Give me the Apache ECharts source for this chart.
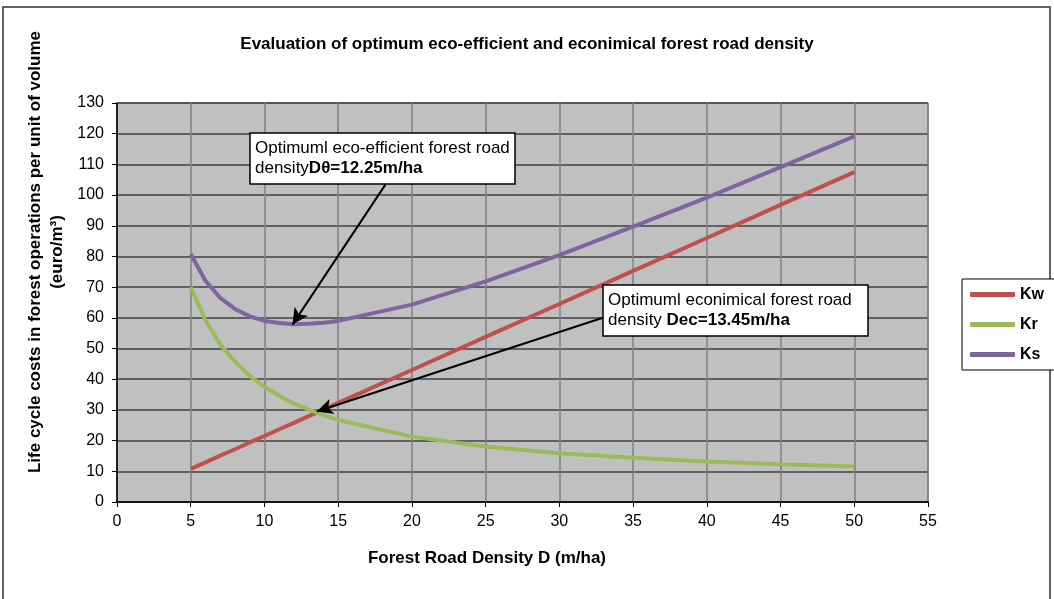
<!DOCTYPE html>
<html>
<head>
<meta charset="utf-8">
<script src="https://cdn.jsdelivr.net/npm/echarts@6/dist/echarts.min.js"></script>
<style>
  html, body { margin: 0; padding: 0; background: #fff; }
  #chart { width: 1054px; height: 599px; }
</style>
</head>
<body>
<div id="chart"></div>
<script>
// Forest road density D (m/ha)
const densityD = [5, 6, 7, 8, 9, 10, 11, 12, 13, 14, 15, 20, 25, 30, 35, 40, 45, 50];
// Kw: road construction & maintenance cost share
const kwValues = [10.8, 12.9, 15.1, 17.2, 19.4, 21.5, 23.7, 25.8, 28.0, 30.1, 32.3, 43.0, 53.8, 64.5, 75.3, 86.0, 96.8, 107.5];
// Kr: skidding / harvesting cost share
const krValues = [70.0, 59.2, 51.4, 45.7, 41.1, 37.5, 34.6, 32.1, 30.1, 28.3, 26.7, 21.3, 18.1, 15.9, 14.4, 13.2, 12.3, 11.6];
// Ks: total life cycle cost
const ksValues = [80.8, 72.1, 66.5, 62.9, 60.5, 59.0, 58.3, 57.9, 58.1, 58.4, 59.0, 64.3, 71.9, 80.4, 89.7, 99.2, 109.1, 119.1];

const seriesNames = ['Kw', 'Kr', 'Ks'];
const seriesColors = ['#c0504d', '#9bbb59', '#8064a2'];

const xTicks = { min: 0, max: 55, step: 5 };
const yTicks = { min: 0, max: 130, step: 10 };

// Callout arrows: [tail (D, cost), head (D, cost)]
const ecoArrow = [[18.2, 103.4], [11.9, 57.8]];
const econArrow = [[33.0, 60.1], [13.55, 29.5]];

const chart = echarts.init(document.getElementById('chart'), null, { renderer: 'canvas' });

const toPairs = vals => densityD.map((d, i) => [d, vals[i]]);
const allValues = [kwValues, krValues, ksValues];

const baseFont = 'Liberation Sans, Arial, sans-serif';

const series = seriesNames.map((name, i) => ({
  name,
  type: 'line',
  data: toPairs(allValues[i]),
  showSymbol: false,
  symbol: 'none',
  smooth: false,
  lineStyle: { color: seriesColors[i], width: 4 },
  itemStyle: { color: seriesColors[i] },
  z: 3
}));

// arrows drawn in data coordinates on top of the curves
series.push({
  type: 'line',
  data: [],
  z: 5,
  markLine: {
    silent: true,
    animation: false,
    symbol: ['none', 'arrow'],
    symbolSize: [12, 16],
    label: { show: false },
    lineStyle: { color: '#000', width: 2, type: 'solid' },
    data: [
      [{ coord: ecoArrow[0] }, { coord: ecoArrow[1] }],
      [{ coord: econArrow[0] }, { coord: econArrow[1] }]
    ]
  }
});

const calloutText = (x, y, w, h, line1, line2a, line2b) => ({
  type: 'group',
  z: 100,
  children: [
    {
      type: 'rect',
      z: 100,
      shape: { x: x, y: y, width: w, height: h },
      style: { fill: '#fff', stroke: '#000', lineWidth: 1.5 }
    },
    {
      type: 'text',
      z: 101,
      x: x + 5,
      y: y + 5,
      style: {
        text: line1 + '\n' + line2a + '{b|' + line2b + '}',
        font: '17px ' + baseFont,
        fill: '#000',
        lineHeight: 20,
        rich: {
          b: { font: 'bold 17px ' + baseFont, fill: '#000', lineHeight: 20 }
        }
      }
    }
  ]
});

chart.setOption({
  animation: false,
  backgroundColor: '#fff',
  title: {
    text: 'Evaluation of optimum eco-efficient and econimical forest road density',
    left: 522,
    top: 31,
    textAlign: 'center',
    textStyle: { fontFamily: baseFont, fontWeight: 'bold', fontSize: 17, color: '#000' }
  },
  grid: {
    left: 117,
    right: 126,
    top: 103,
    bottom: 97,
    show: true,
    backgroundColor: '#c0c0c0',
    borderColor: '#555',
    borderWidth: 1
  },
  legend: {
    data: seriesNames,
    orient: 'vertical',
    left: 962,
    top: 279,
    padding: [7, 12, 7, 8],
    itemGap: 13,
    itemWidth: 45,
    itemHeight: 5,
    icon: 'roundRect',
    borderColor: '#000',
    borderWidth: 1,
    backgroundColor: '#fff',
    textStyle: { fontFamily: baseFont, fontWeight: 'bold', fontSize: 16, color: '#000', lineHeight: 17 }
  },
  xAxis: {
    type: 'value',
    min: xTicks.min,
    max: xTicks.max,
    interval: xTicks.step,
    axisLine: { show: true, onZero: false, lineStyle: { color: '#000', width: 1.5 } },
    axisTick: { show: true, length: 5, lineStyle: { color: '#000' } },
    axisLabel: { color: '#000', fontFamily: baseFont, fontSize: 16, margin: 12 },
    splitLine: { show: true, lineStyle: { color: '#808080', width: 1.5 } }
  },
  yAxis: {
    type: 'value',
    min: yTicks.min,
    max: yTicks.max,
    interval: yTicks.step,
    axisLine: { show: true, lineStyle: { color: '#000', width: 1.5 } },
    axisTick: { show: true, length: 5, lineStyle: { color: '#000' } },
    axisLabel: { color: '#000', fontFamily: baseFont, fontSize: 16, margin: 13 },
    splitLine: { show: true, lineStyle: { color: '#404040', width: 1.5 } }
  },
  graphic: [
    {
      type: 'rect',
      z: -1,
      silent: true,
      shape: { x: 3, y: 7, width: 1047, height: 620 },
      style: { fill: 'none', stroke: '#333', lineWidth: 1.5 }
    },
    {
      type: 'text',
      x: 46,
      y: 252,
      rotation: Math.PI / 2,
      style: {
        text: 'Life cycle costs in forest operations per unit of volume\n(euro/m³)',
        font: 'bold 17px ' + baseFont,
        fill: '#000',
        align: 'center',
        verticalAlign: 'middle',
        lineHeight: 22
      }
    },
    {
      type: 'text',
      x: 487,
      y: 558,
      style: {
        text: 'Forest Road Density D (m/ha)',
        font: 'bold 17px ' + baseFont,
        fill: '#000',
        align: 'center',
        verticalAlign: 'middle'
      }
    },
    calloutText(250, 133, 265, 51, 'Optimuml eco-efficient forest road', 'density', 'Dθ=12.25m/ha'),
    calloutText(603, 285, 265, 51, 'Optimuml econimical forest road', 'density ', 'Dec=13.45m/ha')
  ],
  series
});
</script>
</body>
</html>
